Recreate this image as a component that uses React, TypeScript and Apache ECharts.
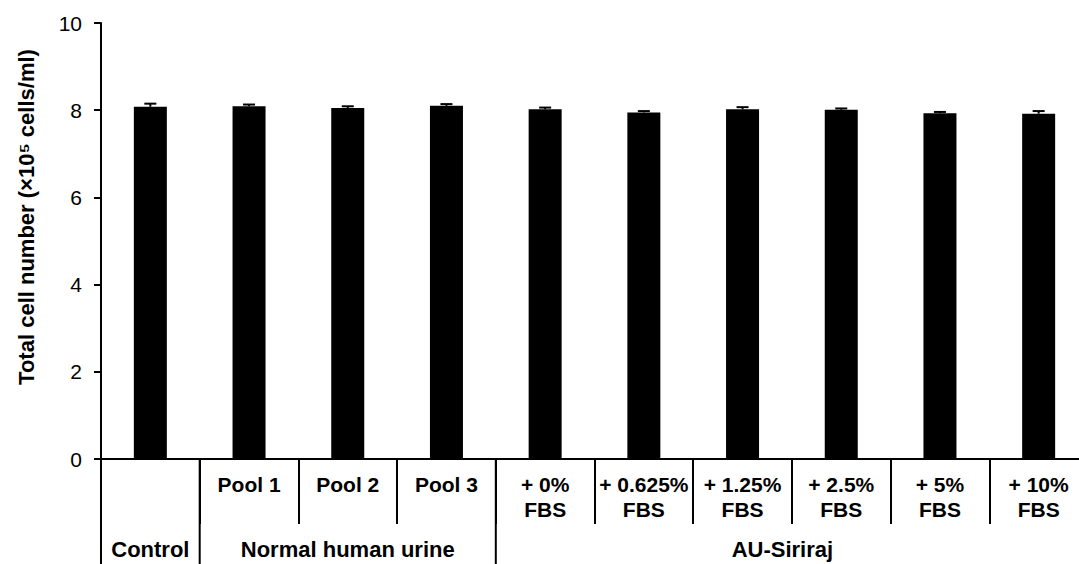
import React, { useEffect, useRef } from "react";
import * as echarts from "echarts";

const categories = [
  "Control",
  "Pool 1",
  "Pool 2",
  "Pool 3",
  "+ 0% FBS",
  "+ 0.625% FBS",
  "+ 1.25% FBS",
  "+ 2.5% FBS",
  "+ 5% FBS",
  "+ 10% FBS",
];
const rowLabels = [
  "",
  "Pool 1",
  "Pool 2",
  "Pool 3",
  "+ 0%\nFBS",
  "+ 0.625%\nFBS",
  "+ 1.25%\nFBS",
  "+ 2.5%\nFBS",
  "+ 5%\nFBS",
  "+ 10%\nFBS",
];
const groupNames = ["Control", "Normal human urine", "AU-Siriraj"];
const groupSizes = [1, 3, 6];
const means = [8.08, 8.09, 8.05, 8.1, 8.02, 7.95, 8.02, 8.01, 7.93, 7.92];
const errors = [0.07, 0.04, 0.04, 0.04, 0.04, 0.03, 0.05, 0.03, 0.03, 0.06];
const yMin = 0;
const yMax = 10;
const yInterval = 2;
const yTitle = "Total cell number (×10⁵ cells/ml)";

const FONT = '"Liberation Sans", Arial, Helvetica, sans-serif';

export default function App() {
  const ref = useRef<HTMLDivElement>(null);

  useEffect(() => {
    if (!ref.current) return;
    const chart = echarts.init(ref.current, undefined, { renderer: "svg" });
    const W = 1079;
    const H = 564;

    chart.setOption({
      animation: false,
      backgroundColor: "#ffffff",
      textStyle: { fontFamily: FONT },
      grid: {
        left: 101,
        right: -9,
        top: 23,
        bottom: 105,
        containLabel: false,
        outerBoundsMode: "none",
      },
      xAxis: {
        type: "category",
        data: categories,
        boundaryGap: true,
        axisLine: { show: true, lineStyle: { color: "#000", width: 2 } },
        axisTick: {
          show: true,
          interval: 0,
          length: 65,
          alignWithLabel: false,
          lineStyle: { color: "#000", width: 2 },
        },
        axisLabel: {
          interval: 0,
          margin: 13,
          color: "#000",
          fontFamily: FONT,
          fontSize: 21,
          fontWeight: "bold",
          lineHeight: 25,
          verticalAlign: "top",
          formatter: (_v: string, i: number) => rowLabels[i],
        },
        splitLine: { show: false },
      },
      yAxis: {
        type: "value",
        min: yMin,
        max: yMax,
        interval: yInterval,
        axisLine: { show: true, lineStyle: { color: "#000", width: 2 } },
        axisTick: {
          show: true,
          inside: false,
          length: 7,
          lineStyle: { color: "#000", width: 2 },
        },
        axisLabel: {
          color: "#000",
          fontFamily: FONT,
          fontSize: 21,
          margin: 19,
        },
        splitLine: { show: false },
      },
      series: [
        {
          type: "bar",
          data: means,
          barWidth: 33,
          itemStyle: { color: "#000" },
          z: 2,
        },
        {
          type: "custom",
          z: 3,
          data: means.map((m, i) => [i, m, errors[i]]),
          renderItem: (params: any, api: any) => {
            const idx = api.value(0);
            const m = api.value(1);
            const e = api.value(2);
            const top = api.coord([idx, m + e]);
            const mid = api.coord([idx, m]);
            const half = 6;
            return {
              type: "group",
              children: [
                {
                  type: "line",
                  shape: { x1: mid[0], y1: mid[1], x2: top[0], y2: top[1] },
                  style: { stroke: "#000", lineWidth: 2 },
                },
                {
                  type: "line",
                  shape: {
                    x1: top[0] - half,
                    y1: top[1],
                    x2: top[0] + half,
                    y2: top[1],
                  },
                  style: { stroke: "#000", lineWidth: 2 },
                },
              ],
            };
          },
        },
      ],
    });

    const c0 = chart.convertToPixel({ xAxisIndex: 0 }, 0) as number;
    const c1 = chart.convertToPixel({ xAxisIndex: 0 }, 1) as number;
    const band = c1 - c0;
    const y0 = chart.convertToPixel({ yAxisIndex: 0 }, 0) as number;
    const startOf = (i: number) =>
      (chart.convertToPixel({ xAxisIndex: 0 }, i) as number) - band / 2;

    const graphics: any[] = [];
    let idx = 0;
    groupNames.forEach((name, g) => {
      const s = startOf(idx);
      const e = Math.min(s + band * groupSizes[g], W - 10);
      graphics.push({
        type: "line",
        shape: { x1: s, y1: y0, x2: s, y2: H },
        style: { stroke: "#000", lineWidth: 2 },
        z: 10,
      });
      graphics.push({
        type: "text",
        x: (s + e) / 2,
        y: 549,
        style: {
          text: name,
          fill: "#000",
          font: `bold 22px ${FONT}`,
          textAlign: "center",
          textVerticalAlign: "middle",
        },
        z: 10,
      });
      idx += groupSizes[g];
    });
    graphics.push({
      type: "text",
      x: 26,
      y: 217,
      rotation: Math.PI / 2,
      style: {
        text: yTitle,
        fill: "#000",
        font: `bold 22px ${FONT}`,
        textAlign: "center",
        textVerticalAlign: "middle",
      },
      z: 10,
    });
    chart.setOption({ graphic: graphics });

    return () => chart.dispose();
  }, []);

  return (
    <div
      ref={ref}
      style={{ position: "absolute", left: 0, top: 0, width: 1079, height: 564 }}
    />
  );
}
